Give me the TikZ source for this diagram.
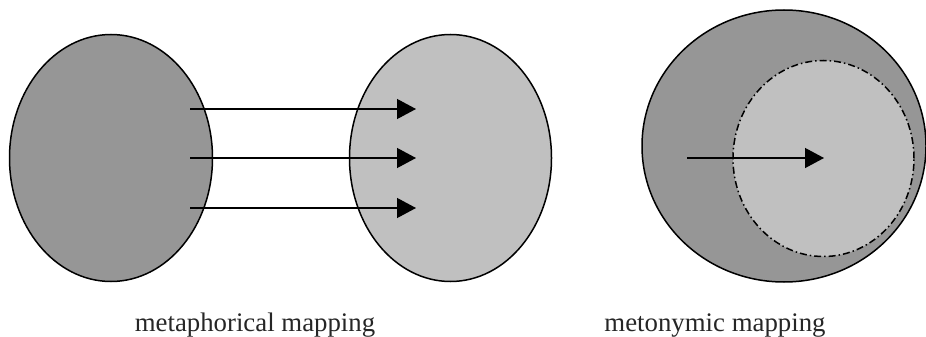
\documentclass[tikz,border=0pt]{standalone}
\usepackage{fontspec}
\setmainfont{Liberation Serif}
\usetikzlibrary{shapes.geometric,arrows.meta}
\definecolor{darkfill}{HTML}{969696}
\definecolor{lightfill}{HTML}{C0C0C0}
\begin{document}
\begin{tikzpicture}[x=1pt,y=-1pt,
  region/.style={ellipse, draw=black, line width=1.5pt, inner sep=0pt},
  mapline/.style={line width=1.3pt, -{Triangle[length=19pt,width=20pt]}},
  caption/.style={anchor=base, font=\fontsize{26.8pt}{30pt}\selectfont, text=black!85}]
  \useasboundingbox (0,0) rectangle (926,337);
  \clip (0,0) rectangle (926,337);

  % metaphor: source and target domains
  \node[region, fill=darkfill, minimum width=203pt, minimum height=247pt] (source) at (111,158) {};
  \node[region, fill=lightfill, minimum width=202pt, minimum height=247pt] (target) at (450.5,158) {};

  \coordinate (s1) at (190,109); \coordinate (t1) at (416,109);
  \coordinate (s2) at (190,158); \coordinate (t2) at (416,158);
  \coordinate (s3) at (190,208); \coordinate (t3) at (416,208);
  \draw[mapline] (s1) -- (t1);
  \draw[mapline] (s2) -- (t2);
  \draw[mapline] (s3) -- (t3);

  % metonymy: a subdomain inside one domain
  \node[region, fill=darkfill, minimum width=284pt, minimum height=272pt] (whole) at (784,146) {};
  \node[region, fill=lightfill,
        dash pattern=on 7pt off 3pt on 1.5pt off 3pt,
        minimum width=181pt, minimum height=196pt] (part) at (823.5,158.5) {};
  \coordinate (m1) at (687,158); \coordinate (m2) at (824,158);
  \draw[mapline] (m1) -- (m2);

  \node[caption] (capA) at (255,331) {metaphorical mapping};
  \node[caption] (capB) at (715,331) {metonymic mapping};
\end{tikzpicture}
\end{document}
